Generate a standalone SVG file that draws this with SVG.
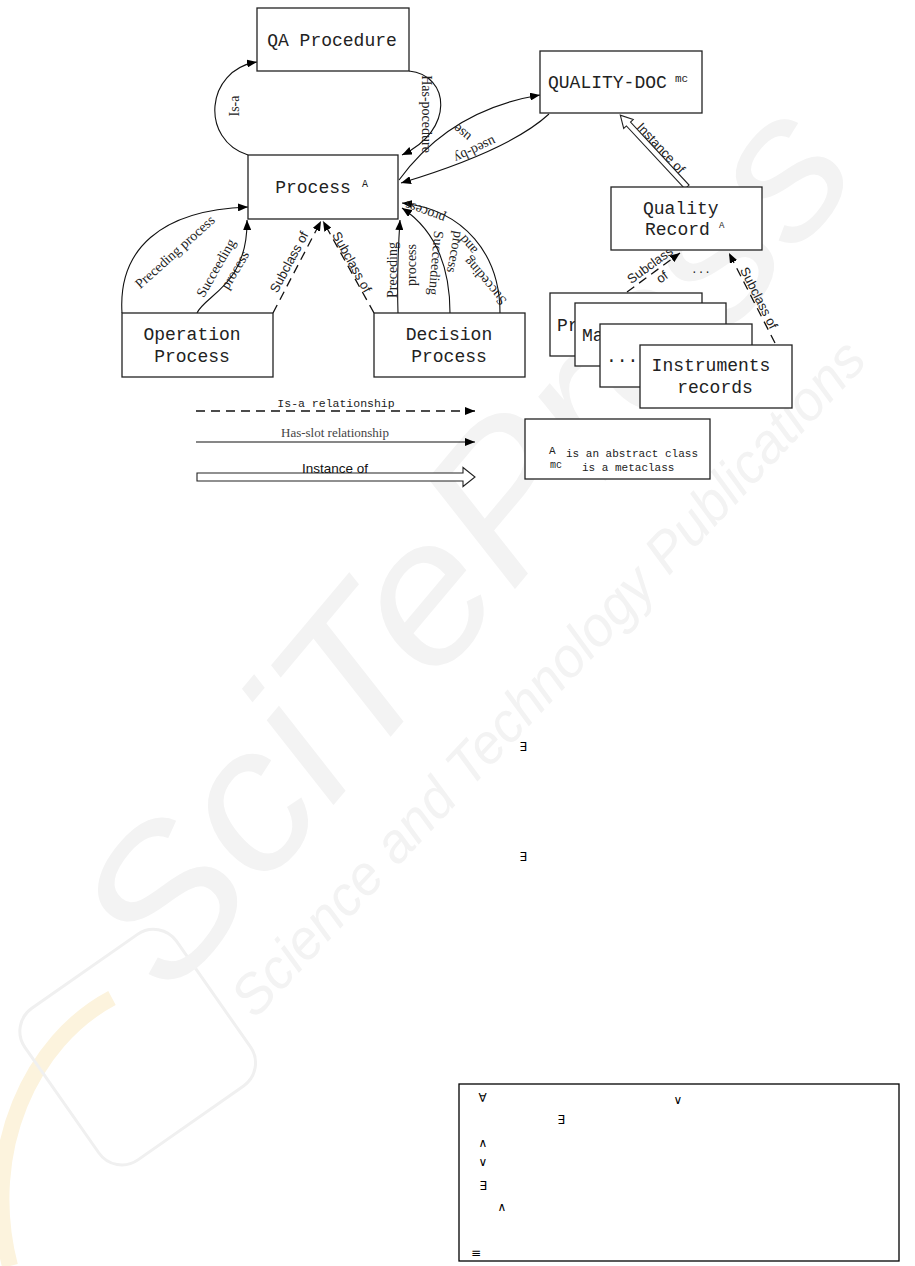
<svg xmlns="http://www.w3.org/2000/svg" width="915" height="1266" viewBox="0 0 915 1266">
<defs>
<marker id="ah" viewBox="0 0 10 8" refX="10" refY="4" markerWidth="10" markerHeight="8" markerUnits="userSpaceOnUse" orient="auto"><path d="M0,0 L10,4 L0,8 Z" fill="#000"/></marker>
</defs>
<style>
.box{fill:#fff;stroke:#222;stroke-width:1.3}
.nt{font-family:"Liberation Mono",monospace;font-size:18px;fill:#222}
.sup{font-family:"Liberation Mono",monospace;fill:#222}
.c{fill:none;stroke:#111;stroke-width:1.1}
.d{fill:none;stroke:#111;stroke-width:1.3;stroke-dasharray:9 6}
.hol{fill:#fff;stroke:#222;stroke-width:1.1}
.ls{font-family:"Liberation Serif",serif;font-size:14px;fill:#222;dominant-baseline:central;text-anchor:middle}
.la{font-family:"Liberation Sans",sans-serif;font-size:13px;fill:#222;dominant-baseline:central;text-anchor:middle}
.sym{font-family:"DejaVu Sans",sans-serif;font-size:12px;fill:#000;text-anchor:middle;dominant-baseline:central}
.wm{font-family:"Liberation Sans",sans-serif;font-style:italic;fill:#f3f3f3}
</style>
<rect width="915" height="1266" fill="#fff"/>

<g id="watermark">
<path d="M 10 1266 C -20 1150 32 1040 112 998" fill="none" stroke="#fcf3dd" stroke-width="16"/>
<rect x="45" y="955" width="185" height="185" rx="28" fill="none" stroke="#f0f0f0" stroke-width="3" transform="rotate(-35 137 1047)"/>
<text class="wm" font-size="200" textLength="1080" lengthAdjust="spacingAndGlyphs" transform="translate(170,1000) rotate(-50)">SciTePress</text>
<text class="wm" font-size="56" textLength="900" lengthAdjust="spacingAndGlyphs" transform="translate(255,1020) rotate(-47)">Science and Technology Publications</text>
</g>

<g id="connectors">
<path class="c" d="M 248 155 C 200 140 205 70 257 62" marker-end="url(#ah)"/>
<path class="c" d="M 409 71 C 450 75 455 130 402 155" marker-end="url(#ah)"/>
<path class="c" d="M 399 180 Q 450 110 540 95" marker-end="url(#ah)"/>
<path class="c" d="M 549 114 Q 510 150 401 183" marker-end="url(#ah)"/>
<polygon class="hol" points="0,-2.8 86,-2.8 86,-6.5 98,0 86,6.5 86,2.8 0,2.8" transform="translate(687,187) rotate(-132.9)"/>
<path class="d" d="M 627 292 L 680 253" marker-end="url(#ah)"/>
<path class="d" d="M 775 343 L 729 253" marker-end="url(#ah)"/>
<path class="c" d="M 122 313 C 118 250 160 210 248 207" marker-end="url(#ah)"/>
<path class="c" d="M 197 313 C 205 295 248 285 247 220" marker-end="url(#ah)"/>
<path class="d" d="M 273 313 L 321 221" marker-end="url(#ah)"/>
<path class="d" d="M 374 313 L 323 221" marker-end="url(#ah)"/>
<path class="c" d="M 398 313 C 397 280 398 250 400 220" marker-end="url(#ah)"/>
<path class="c" d="M 450 313 C 450 265 435 230 402 208" marker-end="url(#ah)"/>
<path class="c" d="M 500 313 C 500 255 465 210 402 203" marker-end="url(#ah)"/>

<text class="ls" transform="translate(234,106) rotate(-90)">Is-a</text>
<text class="ls" font-size="13" transform="translate(426,114) rotate(90)">Has-pocedure</text>
<text class="ls" transform="translate(462,133) rotate(220)">use</text>
<text class="ls" transform="translate(475,150) rotate(155)">used-by</text>
<text class="la" font-size="14" transform="translate(661,148) rotate(47)">Instance of</text>
<text class="la" transform="translate(650,265) rotate(-36)">Subclass</text>
<text class="la" transform="translate(662,277) rotate(-36)">of</text>
<text class="la" font-size="14" transform="translate(759,298) rotate(63)">Subclass of</text>
<text class="ls" font-size="14.5" transform="translate(175,252) rotate(-42)">Preceding process</text>
<text class="ls" transform="translate(216,268) rotate(-60)">Succeeding</text>
<text class="ls" transform="translate(235,270) rotate(-59)">process</text>
<text class="la" transform="translate(289,262) rotate(-62)">Subclass of</text>
<text class="la" transform="translate(352,262) rotate(61)">Subclass of</text>
<text class="ls" transform="translate(392,270) rotate(-90)">Preceding</text>
<text class="ls" transform="translate(411,265) rotate(-90)">process</text>
<text class="ls" transform="translate(436,263) rotate(95)">Succeeding</text>
<text class="ls" transform="translate(455,252) rotate(100)">process</text>
<text class="ls" transform="translate(485,281) rotate(-130)">Succeding</text>
<text class="ls" transform="translate(468,245) rotate(-130)">and</text>
<text class="ls" transform="translate(425,212) rotate(-160)">process</text>
</g>

<g id="n-qa">
<rect class="box" x="257" y="8" width="152" height="63"/>
<text class="nt" x="332" y="46" text-anchor="middle">QA Procedure</text>
</g>

<g id="n-process">
<rect class="box" x="248" y="155" width="150" height="64"/>
<text class="nt" x="313" y="193" text-anchor="middle">Process</text>
<text class="sup" x="362" y="187" font-size="10">A</text>
</g>

<g id="n-qualitydoc">
<rect class="box" x="540" y="51" width="162" height="62"/>
<text class="nt" x="548" y="88">QUALITY-DOC</text>
<text class="sup" x="675" y="82" font-size="11">mc</text>
</g>

<g id="n-qualityrecord">
<rect class="box" x="611" y="187" width="151" height="63"/>
<text class="nt" x="643" y="214">Quality</text>
<text class="nt" x="645" y="235">Record</text>
<text class="sup" x="719" y="228" font-size="9">A</text>
</g>
<text class="sup" x="701" y="273" font-size="11" text-anchor="middle">...</text>

<g id="n-operation">
<rect class="box" x="122" y="313" width="151" height="64"/>
<text class="nt" x="192" y="340" text-anchor="middle">Operation</text>
<text class="nt" x="192" y="362" text-anchor="middle">Process</text>
</g>

<g id="n-decision">
<rect class="box" x="374" y="313" width="151" height="64"/>
<text class="nt" x="449" y="340" text-anchor="middle">Decision</text>
<text class="nt" x="449" y="362" text-anchor="middle">Process</text>
</g>

<g id="n-records">
<g id="n-rec1">
<rect class="box" x="550" y="293" width="152" height="63"/>
<text class="nt" x="557" y="331" font-size="17">Pr</text>
</g>
<g id="n-rec2">
<rect class="box" x="575" y="303" width="151" height="63"/>
<text class="nt" x="582" y="341" font-size="17">Ma</text>
</g>
<g id="n-rec3">
<rect class="box" x="600" y="324" width="152" height="63"/>
<text class="nt" x="606" y="362" font-size="13">...</text>
</g>
<g id="n-rec4">
<rect class="box" x="640" y="345" width="152" height="63"/>
<text class="nt" x="711" y="371" text-anchor="middle">Instruments</text>
<text class="nt" x="715" y="393" text-anchor="middle">records</text>
</g>
</g>

<g id="legend">
<path class="d" d="M 196 411 L 475 411" marker-end="url(#ah)"/>
<text class="sup" x="336" y="407" font-size="11.5" text-anchor="middle">Is-a relationship</text>
<path class="c" d="M 196 442 L 475 442" marker-end="url(#ah)"/>
<text x="335" y="437" font-family="Liberation Serif, serif" font-size="13" fill="#444" text-anchor="middle">Has-slot relationship</text>
<polygon class="hol" points="197,473 463,473 463,467.5 475,477 463,486.5 463,481 197,481"/>
<text x="335" y="473" font-family="Liberation Sans, sans-serif" font-size="13.5" fill="#111" text-anchor="middle">Instance of</text>
</g>

<g id="legend-box">
<rect class="box" x="525" y="419" width="185" height="60"/>
<text class="sup" x="549" y="454" font-size="11">A</text>
<text class="sup" x="566" y="457" font-size="11">is an abstract class</text>
<text class="sup" x="550" y="468" font-size="10">mc</text>
<text class="sup" x="582" y="471" font-size="11">is a metaclass</text>
</g>

<g id="formula-fragments">
<text class="sym" x="523" y="747">∃</text>
<text class="sym" x="523" y="857">∃</text>
</g>

<g id="formula-box">
<rect x="459" y="1084" width="440" height="177" fill="none" stroke="#000" stroke-width="1.3"/>
<text class="sym" x="482.5" y="1098">∀</text>
<text class="sym" x="678" y="1100">∨</text>
<text class="sym" x="561" y="1120">∃</text>
<text class="sym" x="483" y="1143">∧</text>
<text class="sym" x="483" y="1162">∨</text>
<text class="sym" x="483" y="1186">∃</text>
<text class="sym" x="502" y="1207">∧</text>
<text class="sym" x="476" y="1253">≡</text>
</g>
</svg>
